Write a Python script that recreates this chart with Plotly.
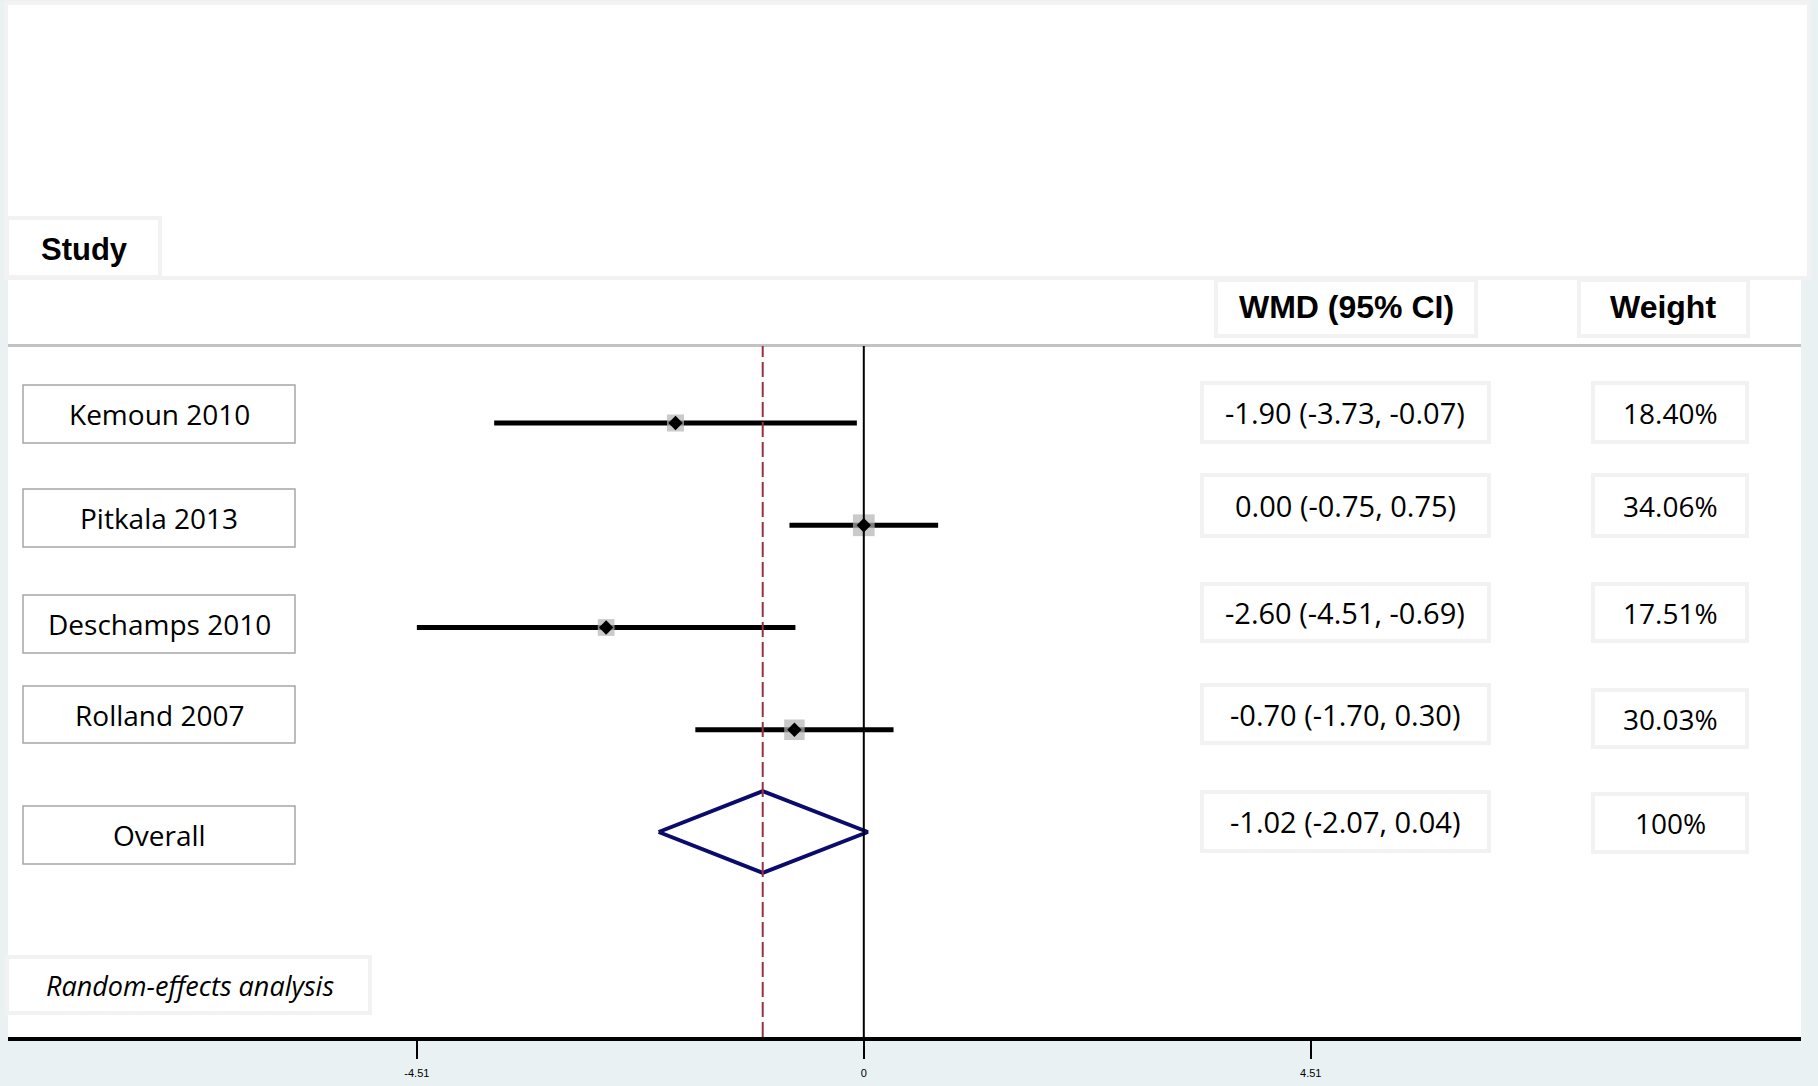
import plotly.graph_objects as go

# ---------------- data ----------------
studies = ["Kemoun 2010", "Pitkala 2013", "Deschamps 2010", "Rolland 2007"]
wmd = [-1.90, 0.00, -2.60, -0.70]
ci_low = [-3.73, -0.75, -4.51, -1.70]
ci_high = [-0.07, 0.75, -0.69, 0.30]
weights = [18.40, 34.06, 17.51, 30.03]
wmd_labels = ["-1.90 (-3.73, -0.07)", "0.00 (-0.75, 0.75)", "-2.60 (-4.51, -0.69)", "-0.70 (-1.70, 0.30)"]
weight_labels = ["18.40%", "34.06%", "17.51%", "30.03%"]

overall_label = "Overall"
overall_est = -1.02
overall_low = -2.07
overall_high = 0.04
overall_wmd_label = "-1.02 (-2.07, 0.04)"
overall_weight_label = "100%"

tick_vals = [-4.51, 0, 4.51]
tick_text = ["-4.51", "0", "4.51"]

# ---------------- layout geometry (pixels) ----------------
W, H = 1818, 1086
L, R, T, B = 8, 1801, 278, 1037
ZERO_PX, UNIT_PX = 863.8, 99.1
ROW0_PX, ROW_STEP = 423.0, 102.25


def px(x):
    return (x - L) / (R - L)


def py(y):
    return (B - y) / (B - T)


BG = "#e9f1f3"
BODY_FONT = "Open Sans"
HEAD_FONT = "Liberation Sans, Arial, sans-serif"

fig = go.Figure()

rows = list(range(len(studies)))
overall_row = len(studies)

# CI lines
for i in rows:
    fig.add_trace(go.Scatter(x=[ci_low[i], ci_high[i]], y=[i, i], mode="lines",
                             line=dict(color="black", width=5), hoverinfo="skip"))
# weight squares
fig.add_trace(go.Scatter(x=wmd, y=rows, mode="markers",
                         marker=dict(symbol="square", color="#b3b3b3",
                                     size=[11.5 + 0.3 * w for w in weights], line=dict(width=0))))
# point estimates
fig.add_trace(go.Scatter(x=wmd, y=rows, mode="markers",
                         marker=dict(symbol="diamond", color="black", size=11, line=dict(width=0))))
# overall diamond
hh = 0.40
fig.add_trace(go.Scatter(x=[overall_low, overall_est, overall_high, overall_est, overall_low],
                         y=[overall_row, overall_row - hh, overall_row, overall_row + hh, overall_row],
                         mode="lines", line=dict(color="#0b0b6e", width=4)))

shapes = []
# top panel
shapes.append(dict(type="rect", xref="paper", yref="paper", x0=px(6), x1=px(1809), y0=py(278), y1=py(3),
                   fillcolor="white", line=dict(color="#f2f2f2", width=4), layer="below"))
# Study header box
shapes.append(dict(type="rect", xref="paper", yref="paper", x0=px(7), x1=px(160), y0=py(277), y1=py(218),
                   fillcolor="white", line=dict(color="#f2f2f2", width=4), layer="below"))
# header boxes
for (x0, x1) in [(1216, 1476), (1579, 1748)]:
    shapes.append(dict(type="rect", xref="paper", yref="paper", x0=px(x0), x1=px(x1), y0=py(336), y1=py(280),
                       fillcolor="white", line=dict(color="#f2f2f2", width=4), layer="below"))
# header separator
shapes.append(dict(type="line", xref="paper", yref="paper", x0=0, x1=1, y0=py(345.5), y1=py(345.5),
                   line=dict(color="#c3c3c3", width=3)))

# label boxes (pixel y ranges)
label_boxes = [(385, 443), (489, 547), (595, 653), (686, 743), (806, 864)]
wmd_boxes = [(383, 442), (475, 536), (584, 641), (685, 743), (792, 851)]
weight_boxes = [(383, 442), (475, 536), (584, 641), (690, 747), (794, 852)]

all_labels = studies + [overall_label]
all_wmd = wmd_labels + [overall_wmd_label]
all_weight = weight_labels + [overall_weight_label]

annotations = []
for k in range(len(all_labels)):
    y0, y1 = label_boxes[k]
    shapes.append(dict(type="rect", xref="paper", yref="paper", x0=px(23), x1=px(295), y0=py(y1), y1=py(y0),
                       fillcolor="white", line=dict(color="#a6a6a6", width=1.5), layer="below"))
    annotations.append(dict(xref="paper", yref="paper", x=px(159), y=py((y0 + y1) / 2), text=all_labels[k],
                            showarrow=False, xanchor="center", yanchor="middle",
                            font=dict(family=BODY_FONT, size=28, color="black")))
    y0, y1 = wmd_boxes[k]
    shapes.append(dict(type="rect", xref="paper", yref="paper", x0=px(1202), x1=px(1489), y0=py(y1), y1=py(y0),
                       fillcolor="white", line=dict(color="#f2f2f2", width=4), layer="below"))
    annotations.append(dict(xref="paper", yref="paper", x=px(1345), y=py((y0 + y1) / 2), text=all_wmd[k],
                            showarrow=False, xanchor="center", yanchor="middle",
                            font=dict(family=BODY_FONT, size=29, color="black")))
    y0, y1 = weight_boxes[k]
    shapes.append(dict(type="rect", xref="paper", yref="paper", x0=px(1593), x1=px(1747), y0=py(y1), y1=py(y0),
                       fillcolor="white", line=dict(color="#f2f2f2", width=4), layer="below"))
    annotations.append(dict(xref="paper", yref="paper", x=px(1670), y=py((y0 + y1) / 2), text=all_weight[k],
                            showarrow=False, xanchor="center", yanchor="middle",
                            font=dict(family=BODY_FONT, size=28, color="black")))

# random-effects box
shapes.append(dict(type="rect", xref="paper", yref="paper", x0=px(7), x1=px(370), y0=py(1013), y1=py(957),
                   fillcolor="white", line=dict(color="#f2f2f2", width=4), layer="below"))
annotations.append(dict(xref="paper", yref="paper", x=px(44), y=py(985), text="<i>Random-effects analysis</i>",
                        showarrow=False, xanchor="left", yanchor="middle",
                        font=dict(family=BODY_FONT, size=27, color="black")))

# headers
annotations.append(dict(xref="paper", yref="paper", x=px(84), y=py(249), text="<b>Study</b>",
                        showarrow=False, xanchor="center", yanchor="middle",
                        font=dict(family=HEAD_FONT, size=31, color="black")))
annotations.append(dict(xref="paper", yref="paper", x=px(1346), y=py(307), text="<b>WMD (95% CI)</b>",
                        showarrow=False, xanchor="center", yanchor="middle",
                        font=dict(family=HEAD_FONT, size=32, color="black")))
annotations.append(dict(xref="paper", yref="paper", x=px(1663), y=py(307), text="<b>Weight</b>",
                        showarrow=False, xanchor="center", yanchor="middle",
                        font=dict(family=HEAD_FONT, size=32, color="black")))

# reference lines
shapes.append(dict(type="line", xref="x", yref="paper", x0=0, x1=0, y0=0, y1=py(346),
                   line=dict(color="black", width=2)))
shapes.append(dict(type="line", xref="x", yref="paper", x0=overall_est, x1=overall_est, y0=0, y1=py(346),
                   line=dict(color="#9b3040", width=2, dash="15px,5px")))

fig.update_layout(
    width=W, height=H,
    margin=dict(l=L, r=W - R, t=T, b=H - B, pad=0, autoexpand=False),
    paper_bgcolor=BG, plot_bgcolor="white",
    showlegend=False,
    shapes=shapes, annotations=annotations,
    xaxis=dict(range=[(L - ZERO_PX) / UNIT_PX, (R - ZERO_PX) / UNIT_PX],
               tickmode="array", tickvals=tick_vals, ticktext=tick_text,
               ticks="outside", ticklen=18, tickwidth=1.5, tickcolor="black",
               ticklabelstandoff=5, automargin=False,
               showline=True, linecolor="black", linewidth=4,
               showgrid=False, zeroline=False,
               tickfont=dict(family="Liberation Sans, Arial", size=11, color="black")),
    yaxis=dict(range=[(B - ROW0_PX) / ROW_STEP, (T - ROW0_PX) / ROW_STEP], automargin=False,
               showticklabels=False, showgrid=False, zeroline=False, showline=False, ticks=""),
)

fig.write_html("out.html")
